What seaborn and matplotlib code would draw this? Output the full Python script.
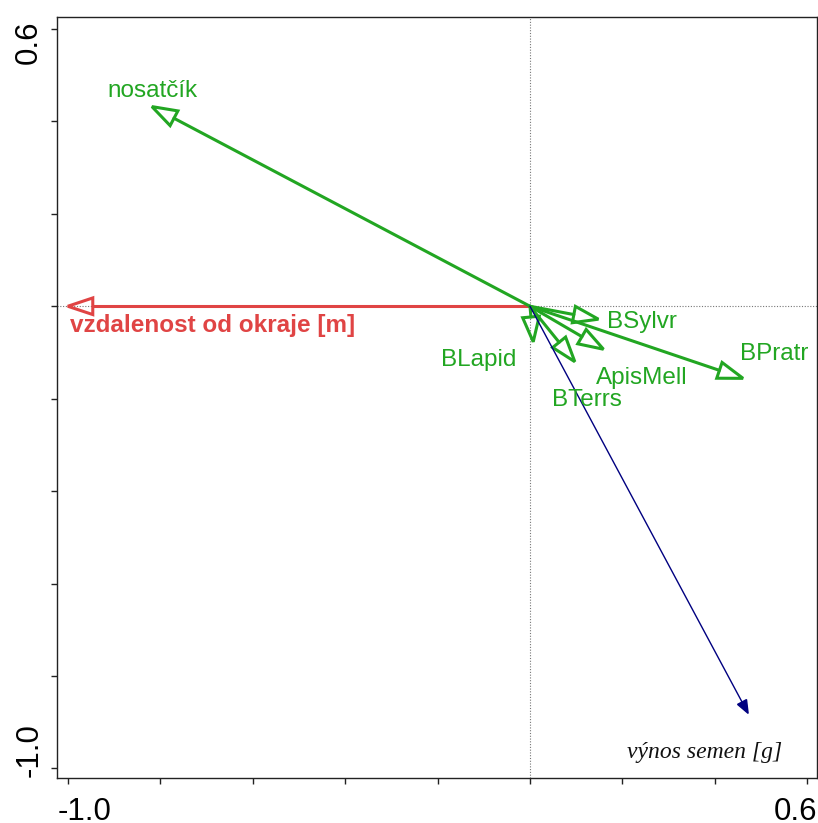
import numpy as np
import pandas as pd
import matplotlib.pyplot as plt
from matplotlib.patches import Polygon
import seaborn as sns

# druhy (odezvove promenne) - konce sipek
druhy = ["nosatčík", "BSylvr", "BPratr", "ApisMell", "BTerrs", "BLapid"]
druhy_x = [-0.818, 0.148, 0.461, 0.159, 0.097, 0.007]
druhy_y = [0.432, -0.028, -0.156, -0.093, -0.120, -0.077]

# vysvetlujici promenna
prostredi = ["vzdalenost od okraje [m]"]
prostredi_x = [-1.0]
prostredi_y = [0.0]

# doplnkova promenna
doplnkove = ["výnos semen [g]"]
doplnkove_x = [0.472]
doplnkove_y = [-0.881]

tick_vals = [-1.0, -0.8, -0.6, -0.4, -0.2, 0.0, 0.2, 0.4, 0.6]

# umisteni popisku (layout)
popisky_druhy = [(-0.915, 0.452), (0.166, -0.0465), (0.454, -0.116),
                 (0.142, -0.169), (0.047, -0.216), (-0.193, -0.129)]
popisek_prostredi = (-0.995, -0.055)
popisek_doplnkove = (0.2105, -0.978)

ZELENA = "#22a622"
CERVENA = "#e04444"
MODRA = "#000080"

sns.set_theme(style="ticks")
plt.rcParams["font.family"] = ["Liberation Sans", "DejaVu Sans"]

fig = plt.figure(figsize=(8.18, 8.23), dpi=100)
ax = fig.add_axes([57 / 818, 45 / 823, 760 / 818, 761 / 823])
ax.set_xlim(-1.0234, 0.621)
ax.set_ylim(-1.0208, 0.6259)

ax.axhline(0, color="#777777", lw=0.8, ls=(0, (1, 1.5)), zorder=1)
ax.axvline(0, color="#777777", lw=0.8, ls=(0, (1, 1.5)), zorder=1)


def sipka(x, y, delka, pol_sirka):
    r = np.hypot(x, y)
    ux, uy = x / r, y / r
    bx, by = x - ux * delka, y - uy * delka
    px, py = -uy * pol_sirka, ux * pol_sirka
    hlava = [(x, y), (bx + px, by + py), (bx - px, by - py)]
    return (bx, by), hlava


def kresli_sipky(nazvy, xs, ys, barva, lw, delka, pol_sirka, plna):
    rows = []
    for n, x, y in zip(nazvy, xs, ys):
        (bx, by), hlava = sipka(x, y, delka, pol_sirka)
        rows.append({"nazev": n, "x": 0.0, "y": 0.0})
        rows.append({"nazev": n, "x": bx, "y": by})
        ax.add_patch(Polygon(hlava, closed=True,
                             facecolor=barva if plna else "none",
                             edgecolor=barva, lw=lw, joinstyle="miter",
                             zorder=3))
    df = pd.DataFrame(rows)
    sns.lineplot(data=df, x="x", y="y", units="nazev", estimator=None,
                 sort=False, color=barva, lw=lw, ax=ax, legend=False,
                 zorder=3)


kresli_sipky(prostredi, prostredi_x, prostredi_y, CERVENA, 2.2, 0.054, 0.018, False)
kresli_sipky(druhy, druhy_x, druhy_y, ZELENA, 2.2, 0.054, 0.018, False)
kresli_sipky(doplnkove, doplnkove_x, doplnkove_y, MODRA, 1.0, 0.028, 0.011, True)

for n, (tx, ty) in zip(druhy, popisky_druhy):
    ax.text(tx, ty, n, color=ZELENA, fontsize=17.5, ha="left", va="baseline")
ax.text(*popisek_prostredi, prostredi[0], color=CERVENA, fontsize=17.5,
        fontweight="bold", ha="left", va="baseline")
ax.text(*popisek_doplnkove, doplnkove[0], color="#111111", fontsize=17,
        family=["Liberation Serif", "DejaVu Serif"], style="italic",
        ha="left", va="baseline")

ax.set_xlabel("")
ax.set_ylabel("")
ax.set_xticks(tick_vals)
ax.set_yticks(tick_vals)
ax.set_xticklabels([])
ax.set_yticklabels([])
ax.tick_params(direction="out", length=4, width=1, color="#222222")
for s in ax.spines.values():
    s.set_color("#222222")
    s.set_linewidth(1.0)

# popisky krajnich hodnot os
fs = 22.5
ax.annotate(f"{tick_vals[0]:.1f}", (0, 0), xycoords="axes fraction",
            xytext=(1, -42), textcoords="offset pixels", fontsize=fs,
            ha="left", va="baseline", color="black")
ax.annotate(f"{tick_vals[-1]:.1f}", (1, 0), xycoords="axes fraction",
            xytext=(0, -42), textcoords="offset pixels", fontsize=fs,
            ha="right", va="baseline", color="black")
ax.annotate(f"{tick_vals[-1]:.1f}", (0, 1), xycoords="axes fraction",
            xytext=(-20, -3), textcoords="offset pixels", fontsize=fs,
            rotation=90, rotation_mode="anchor", ha="right", va="baseline",
            color="black")
ax.annotate(f"{tick_vals[0]:.1f}", (0, 0), xycoords="axes fraction",
            xytext=(-19, 1), textcoords="offset pixels", fontsize=fs,
            rotation=90, rotation_mode="anchor", ha="left", va="baseline",
            color="black")

fig.savefig("out.png", dpi=100)
